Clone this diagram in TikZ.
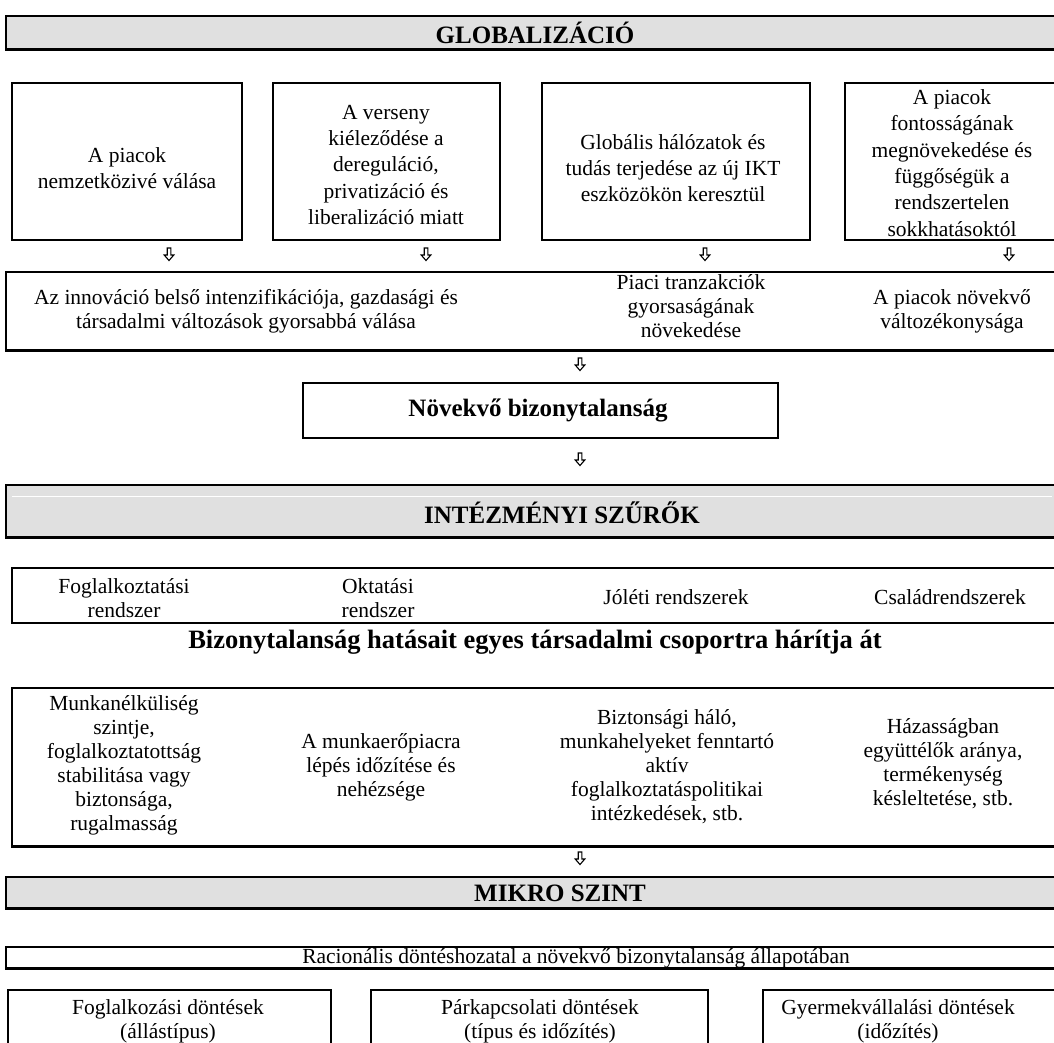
\documentclass[tikz,border=0pt]{standalone}
\usepackage{fontspec}
\setmainfont{Liberation Serif}
\usetikzlibrary{fit}
\definecolor{bandgray}{RGB}{224,224,224}
\tikzset{
  box/.style={draw, line width=1.9pt, inner sep=0pt},
  band/.style={draw, line width=1.9pt, fill=bandgray, inner sep=0pt},
  txt/.style={align=center, inner sep=0pt, font=\fontsize{21.5}{24}\selectfont},
  toptxt/.style={align=center, inner sep=0pt, font=\fontsize{21.5}{26.3}\selectfont},
  head/.style={inner sep=0pt, font=\fontsize{25}{30}\selectfont\bfseries},
  darrow/.pic={\draw[line width=1.1pt, line join=miter, fill=white]
     (-1.8,-6) -- (1.8,-6) -- (1.8,1) -- (4.8,1) -- (0,6.5) -- (-4.8,1) -- (-1.8,1) -- cycle;},
}
\begin{document}
\begin{tikzpicture}[x=1pt,y=-1pt]
\useasboundingbox (0,0) rectangle (1054,1043);
\clip (0,0) rectangle (1054,1043);

% GLOBALIZACIO band
\node[band, fit={(6,16) (1064,49)}] (glob) {};
\draw[line width=2.6pt] (glob.south west) -- (glob.south east);
\node[head] (globt) at (535,33) {GLOBALIZÁCIÓ};

% first row boxes
\node[box, fit={(12,83) (242,240)}] (g1) {};
\node[box, fit={(273,83) (500,240)}] (g2) {};
\node[box, fit={(542,83) (810,240)}] (g3) {};
\node[box, fit={(845,83) (1064,240)}] (g4) {};
\node[toptxt] (g1t) at (127,168) {A piacok\\nemzetközivé válása};
\node[toptxt] (g2t) at (386,165) {A verseny\\kiéleződése a\\dereguláció,\\privatizáció és\\liberalizáció miatt};
\node[toptxt] (g3t) at (673,168) {Globális hálózatok és\\tudás terjedése az új IKT\\eszközökön keresztül};
\node[toptxt] (g4t) at (952,163) {A piacok\\fontosságának\\megnövekedése és\\függőségük a\\rendszertelen\\sokkhatásoktól};

\pic at (169,254) {darrow};
\pic at (426,254) {darrow};
\pic at (705,254) {darrow};
\pic at (1009,254) {darrow};

% second row
\node[box, fit={(6,272) (1064,350)}] (r2) {};
\draw[line width=2.6pt] (r2.south west) -- (r2.south east);
\node[txt] (r2a) at (246,311) {Az innováció belső intenzifikációja, gazdasági és\\társadalmi változások gyorsabbá válása};
\node[txt] (r2b) at (691,306) {Piaci tranzakciók\\gyorsaságának\\növekedése};
\node[txt] (r2c) at (952,311) {A piacok növekvő\\változékonysága};

\pic at (580,364) {darrow};
\node[box, fit={(303,383) (778,438)}] (nb) {};
\node[head] (nbt) at (538,410) {Növekvő bizonytalanság};
\pic at (580,459) {darrow};

% INTEZMENYI band
\node[band, fit={(6,485) (1064,537)}] (inst) {};
\draw[line width=2.6pt] (inst.south west) -- (inst.south east);
\draw[white, line width=0.8pt] (12,496) -- (1052,496);
\node[head] (instt) at (562,513) {INTÉZMÉNYI SZŰRŐK};

\node[box, fit={(12,568) (1064,623)}] (sys) {};
\node[txt] (s1) at (124,598) {Foglalkoztatási\\rendszer};
\node[txt] (s2) at (378,598) {Oktatási\\rendszer};
\node[txt] (s3) at (676,597) {Jóléti rendszerek};
\node[txt] (s4) at (950,597) {Családrendszerek};

\node[head, font=\fontsize{26.5}{30}\selectfont\bfseries] (hat) at (535,642) {Bizonytalanság hatásait egyes társadalmi csoportra hárítja át};

\node[box, fit={(12,688) (1064,846)}] (eff) {};
\draw[line width=2.6pt] (eff.south west) -- (eff.south east);
\node[txt] (e1) at (124,765) {Munkanélküliség\\szintje,\\foglalkoztatottság\\stabilitása vagy\\biztonsága,\\rugalmasság};
\node[txt] (e2) at (381,767) {A munkaerőpiacra\\lépés időzítése és\\nehézsége};
\node[txt] (e3) at (667,767) {Biztonsági háló,\\munkahelyeket fenntartó\\aktív\\foglalkoztatáspolitikai\\intézkedések, stb.};
\node[txt] (e4) at (943,764) {Házasságban\\együttélők aránya,\\termékenység\\késleltetése, stb.};

\pic at (580,858) {darrow};

% MIKRO band
\node[band, fit={(6,877) (1064,908)}] (mikro) {};
\draw[line width=2.6pt] (mikro.south west) -- (mikro.south east);
\node[head] (mikrot) at (560,893) {MIKRO SZINT};

\node[box, fit={(6,947) (1064,968)}] (rac) {};
\draw[line width=2.6pt] (rac.south west) -- (rac.south east);
\node[txt] (ract) at (576,958) {Racionális döntéshozatal a növekvő bizonytalanság állapotában};

\node[box, fit={(8,990) (331,1070)}] (d1) {};
\node[box, fit={(371,990) (708,1070)}] (d2) {};
\node[box, fit={(763,990) (1064,1070)}] (d3) {};
\node[txt] (d1t) at (168,1021) {Foglalkozási döntések\\(állástípus)};
\node[txt] (d2t) at (540,1021) {Párkapcsolati döntések\\(típus és időzítés)};
\node[txt] (d3t) at (898,1021) {Gyermekvállalási döntések\\(időzítés)};
\end{tikzpicture}
\end{document}
